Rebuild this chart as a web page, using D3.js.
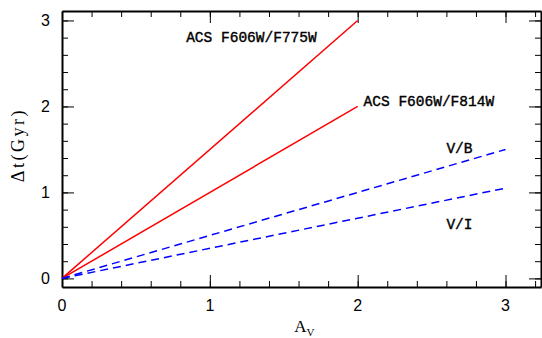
<!DOCTYPE html>
<html>
<head>
<meta charset="utf-8">
<script src="https://cdn.jsdelivr.net/npm/d3@7"></script>
<style>
  body { margin: 0; background: #fff; }
  text { fill: #000; }
</style>
</head>
<body>
<div id="chart"></div>
<script>
// series endpoints (Av, dt), all lines start at the origin
const names = ['ACS F606W/F775W', 'ACS F606W/F814W', 'V/B', 'V/I'];
const avEnd = [2, 2, 3, 3];
const dtEnd = [3, 2, 1.5, 1.05];
const colors = ['#ff0000', '#ff0000', '#0000ff', '#0000ff'];
const dashed = [false, false, true, true];
const xTicks = [0, 1, 2, 3];
const yTicks = [0, 1, 2, 3];

let margin = { top: 11, right: 1, bottom: 51, left: 62 };
let width = 542 - margin.left - margin.right;
let height = 338 - margin.top - margin.bottom;

let svg = d3.select('#chart')
    .append('svg')
    .attr('width', 542)
    .attr('height', 338)
    .append('g')
    .attr('transform', 'translate(' + margin.left + ',' + margin.top + ')');

let x = d3.scaleLinear().domain([0, 3.24]).range([0, width]);
let y = d3.scaleLinear().domain([-0.1, 3.11]).range([height, 0]);

let minorX = d3.range(0, 3.21, 0.2);
let minorY = d3.range(0, 3.01, 0.2);

function ticksOn(axisFn, scale, vals, size) {
    return axisFn(scale).tickValues(vals).tickSize(size).tickFormat('');
}

// frame with ticks on all four sides
const sides = [
    { fn: d3.axisBottom, s: x, vals: minorX, maj: xTicks, t: `translate(0,${height})` },
    { fn: d3.axisTop, s: x, vals: minorX, maj: xTicks, t: 'translate(0,0)' },
    { fn: d3.axisLeft, s: y, vals: minorY, maj: yTicks, t: 'translate(0,0)' },
    { fn: d3.axisRight, s: y, vals: minorY, maj: yTicks, t: `translate(${width},0)` }
];
sides.forEach(sd => {
    let g = svg.append('g').attr('transform', sd.t);
    g.call(ticksOn(sd.fn, sd.s, sd.vals, -6).tickSizeOuter(0));
    g.append('g').call(ticksOn(sd.fn, sd.s, sd.maj, -12).tickSizeOuter(0))
        .select('.domain').remove();
    g.selectAll('line').attr('stroke', '#000').attr('stroke-width', 1);
    g.select('.domain').attr('stroke', '#000').attr('stroke-width', 2);
});

// tick labels
svg.append('g').selectAll('text').data(xTicks).enter().append('text')
    .attr('x', d => x(d)).attr('y', height + 24)
    .attr('text-anchor', 'middle')
    .style('font', '16px "Liberation Sans", sans-serif')
    .text(d => d);
svg.append('g').selectAll('text').data(yTicks).enter().append('text')
    .attr('x', -12).attr('y', d => y(d) + 6)
    .attr('text-anchor', 'end')
    .style('font', '16px "Liberation Sans", sans-serif')
    .text(d => d);

// axis titles
svg.append('text')
    .attr('transform', `translate(${-38},${y(1.55)}) rotate(-90)`)
    .attr('text-anchor', 'middle')
    .style('font', '18px "Liberation Serif", serif')
    .style('letter-spacing', '2.5px')
    .text('\u0394t(Gyr)');
let xl = svg.append('text')
    .attr('x', x(1.64)).attr('y', height + 45)
    .attr('text-anchor', 'middle')
    .style('font', '17px "Liberation Serif", serif');
xl.append('tspan').text('A');
xl.append('tspan').attr('dy', 4).style('font-size', '11px').text('V');

// lines
let line = d3.line().x(d => x(d[0])).y(d => y(d[1]));
svg.selectAll('path.series')
    .data(names.map((n, i) => [[0, 0], [avEnd[i], dtEnd[i]]]))
    .enter()
    .append('path')
    .attr('class', 'series')
    .attr('d', line)
    .attr('fill', 'none')
    .attr('stroke', (d, i) => colors[i])
    .attr('stroke-width', 1.5)
    .attr('stroke-dasharray', (d, i) => dashed[i] ? '8,5' : null);

// line labels
const labelPos = [[0.84, 2.75], [2.04, 2.0], [2.6, 1.46], [2.6, 0.57]];
svg.selectAll('text.lab')
    .data(names)
    .enter()
    .append('text')
    .attr('class', 'lab')
    .attr('x', (d, i) => x(labelPos[i][0]))
    .attr('y', (d, i) => y(labelPos[i][1]))
    .style('font', '14.5px "Liberation Mono", monospace')
    .attr('stroke', '#000')
    .attr('stroke-width', 0.4)
    .text(d => d);
</script>
</body>
</html>
